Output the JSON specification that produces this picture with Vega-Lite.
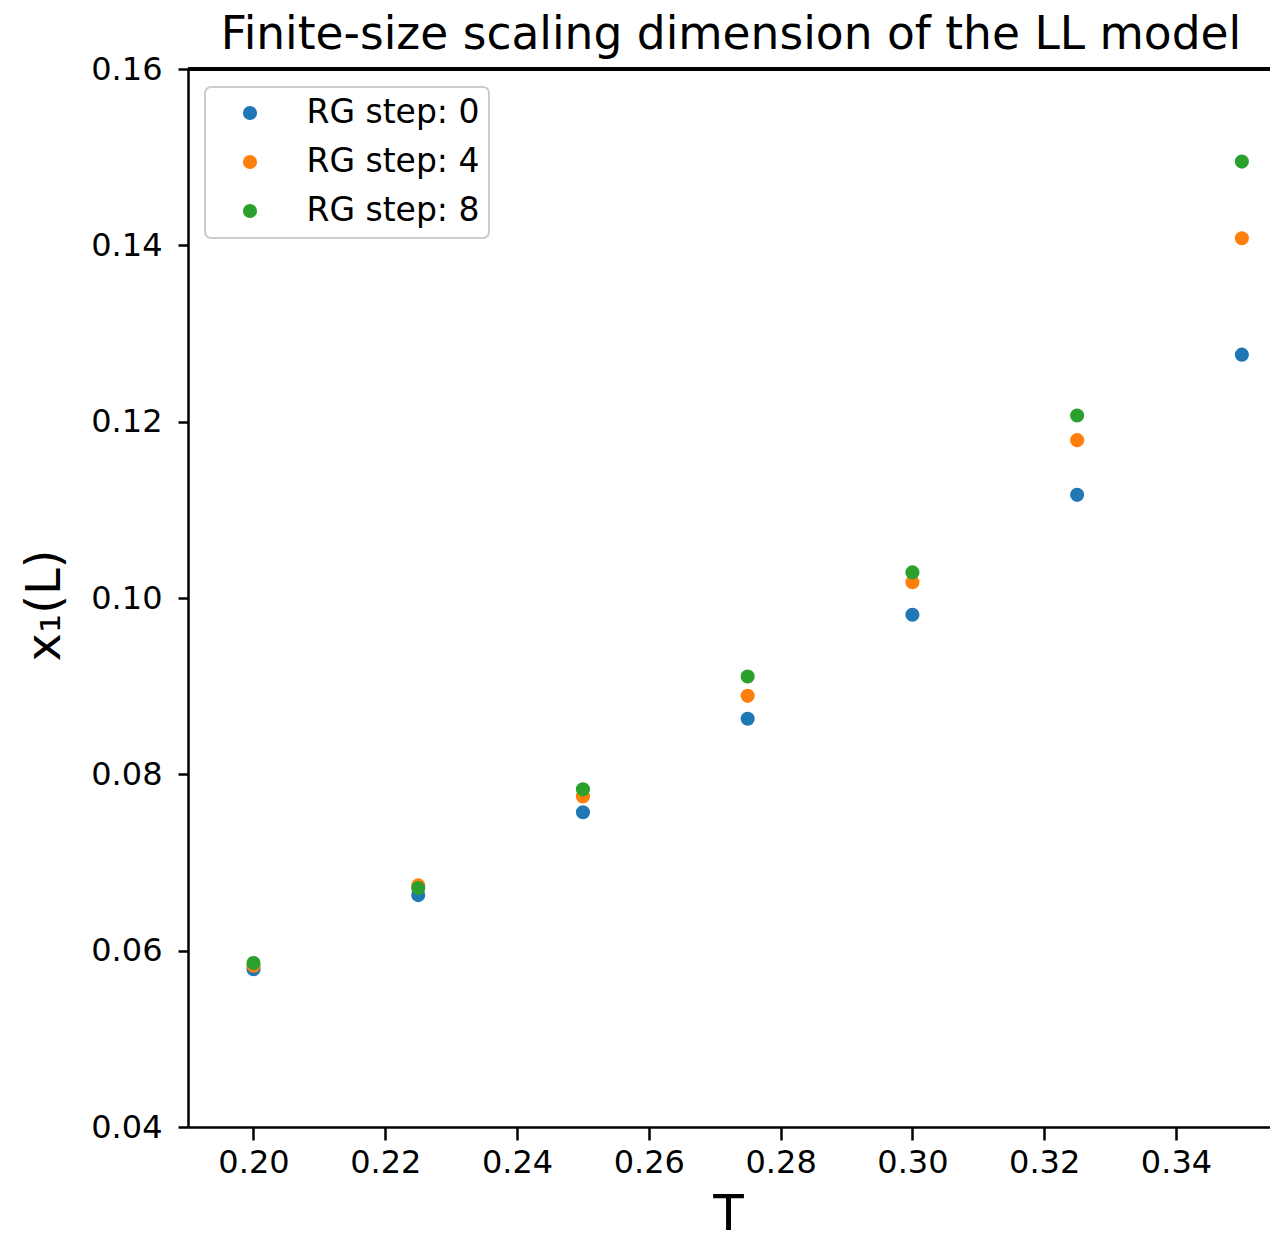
{
  "$schema": "https://vega.github.io/schema/vega-lite/v6.json",
  "width": 1082,
  "height": 1058,
  "autosize": {"type": "none"},
  "padding": {"left": 188, "top": 69, "right": 0, "bottom": 106},
  "background": "white",
  "title": {
    "text": "Finite-size scaling dimension of the LL model",
    "font": "DejaVu Sans",
    "fontSize": 45.5,
    "fontWeight": "normal",
    "color": "black",
    "anchor": "middle",
    "frame": "group",
    "baseline": "alphabetic",
    "offset": 0,
    "dx": 2,
    "dy": 41
  },
  "config": {
    "view": {"stroke": null},
    "axis": {
      "grid": false,
      "domainColor": "black",
      "domainWidth": 2.5,
      "tickColor": "black",
      "tickWidth": 2.5,
      "labelFont": "DejaVu Sans",
      "labelFontSize": 32,
      "labelColor": "black",
      "titleFont": "DejaVu Sans",
      "titleColor": "black",
      "titleFontWeight": "normal"
    },
    "legend": {
      "orient": "none",
      "legendX": 17,
      "legendY": 18,
      "padding": 9.5,
      "strokeColor": "#cccccc",
      "strokeWidth": 2,
      "fillColor": "rgba(255,255,255,0.8)",
      "cornerRadius": 6,
      "symbolOffset": 19,
      "labelOffset": 40,
      "labelLimit": 400,
      "rowPadding": 15,
      "labelFont": "DejaVu Sans",
      "labelFontSize": 33,
      "labelColor": "black",
      "symbolSize": 200,
      "symbolType": "circle",
      "symbolStrokeWidth": 0
    }
  },
  "data": {
    "values": [
      {"T": 0.200, "x1": 0.0579, "series": "RG step: 0"},
      {"T": 0.225, "x1": 0.0663, "series": "RG step: 0"},
      {"T": 0.250, "x1": 0.0757, "series": "RG step: 0"},
      {"T": 0.275, "x1": 0.0863, "series": "RG step: 0"},
      {"T": 0.300, "x1": 0.0981, "series": "RG step: 0"},
      {"T": 0.325, "x1": 0.1117, "series": "RG step: 0"},
      {"T": 0.350, "x1": 0.1276, "series": "RG step: 0"},
      {"T": 0.200, "x1": 0.0583, "series": "RG step: 4"},
      {"T": 0.225, "x1": 0.0674, "series": "RG step: 4"},
      {"T": 0.250, "x1": 0.0775, "series": "RG step: 4"},
      {"T": 0.275, "x1": 0.0889, "series": "RG step: 4"},
      {"T": 0.300, "x1": 0.1018, "series": "RG step: 4"},
      {"T": 0.325, "x1": 0.1179, "series": "RG step: 4"},
      {"T": 0.350, "x1": 0.1408, "series": "RG step: 4"},
      {"T": 0.200, "x1": 0.0586, "series": "RG step: 8"},
      {"T": 0.225, "x1": 0.0671, "series": "RG step: 8"},
      {"T": 0.250, "x1": 0.0783, "series": "RG step: 8"},
      {"T": 0.275, "x1": 0.0911, "series": "RG step: 8"},
      {"T": 0.300, "x1": 0.1029, "series": "RG step: 8"},
      {"T": 0.325, "x1": 0.1207, "series": "RG step: 8"},
      {"T": 0.350, "x1": 0.1495, "series": "RG step: 8"}
    ]
  },
  "layer": [
    {
      "mark": {"type": "rule", "color": "black", "strokeWidth": 2.5},
      "encoding": {"y": {"datum": 0.16, "type": "quantitative"}}
    },
    {
      "mark": {"type": "point", "filled": true, "shape": "circle", "size": 200, "opacity": 1},
      "encoding": {
        "x": {
          "field": "T",
          "type": "quantitative",
          "scale": {"domain": [0.19006, 0.35427], "nice": false, "zero": false},
          "axis": {
            "values": [0.20, 0.22, 0.24, 0.26, 0.28, 0.30, 0.32, 0.34],
            "format": ".2f",
            "tickSize": 13,
            "labelPadding": 7,
            "title": "T",
            "titleFontSize": 50,
            "titleBaseline": "top",
            "titleAlign": "center",
            "titleX": 540,
            "titleY": 62
          }
        },
        "y": {
          "field": "x1",
          "type": "quantitative",
          "scale": {"domain": [0.04, 0.16], "nice": false, "zero": false},
          "axis": {
            "values": [0.04, 0.06, 0.08, 0.10, 0.12, 0.14, 0.16],
            "format": ".2f",
            "tickSize": 10,
            "labelPadding": 16,
            "title": "x₁(L)",
            "titleFontSize": 48,
            "titleAngle": 270,
            "titleBaseline": "middle",
            "titleAlign": "center",
            "titleX": -143,
            "titleY": 536
          }
        },
        "color": {
          "field": "series",
          "type": "nominal",
          "scale": {
            "domain": ["RG step: 0", "RG step: 4", "RG step: 8"],
            "range": ["#1f77b4", "#ff7f0e", "#2ca02c"]
          },
          "legend": {"title": null}
        }
      }
    }
  ]
}
